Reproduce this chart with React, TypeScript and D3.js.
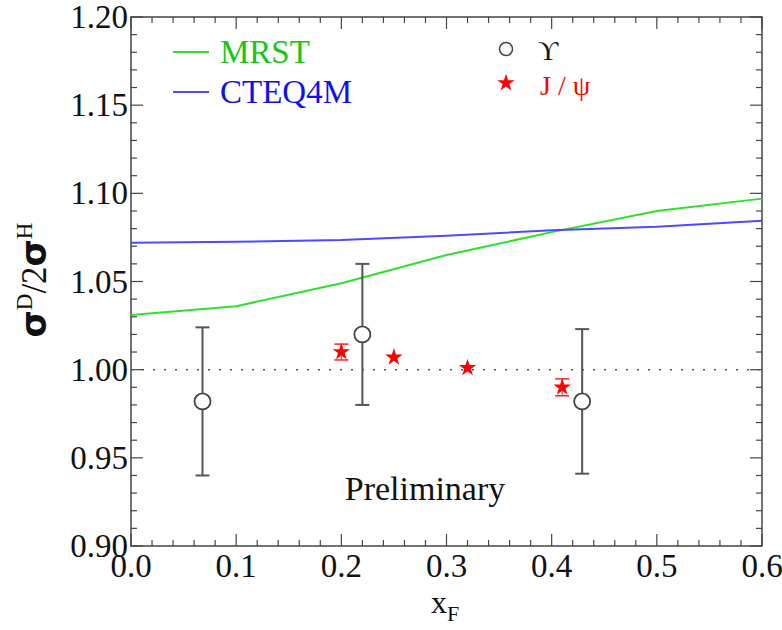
import React, { useEffect, useRef } from 'react';
import * as d3 from 'd3';

// Theory curves (xF, ratio)
const mrstX = [0.0, 0.1, 0.2, 0.3, 0.4, 0.5, 0.6];
const mrstY = [1.031, 1.036, 1.049, 1.065, 1.078, 1.090, 1.097];
const cteqX = [0.0, 0.1, 0.2, 0.3, 0.4, 0.5, 0.6];
const cteqY = [1.072, 1.0725, 1.0735, 1.076, 1.079, 1.081, 1.0845];

// Upsilon points
const upsX = [0.068, 0.22, 0.429];
const upsY = [0.982, 1.020, 0.982];
const upsErr = [0.042, 0.040, 0.041];

// J/psi points
const jpsiX = [0.20, 0.25, 0.32, 0.41];
const jpsiY = [1.010, 1.007, 1.001, 0.990];
const jpsiErr = [0.0045, 0.002, 0.0015, 0.0048];

const xTicks = [0.0, 0.1, 0.2, 0.3, 0.4, 0.5, 0.6];
const yTicks = [0.90, 0.95, 1.00, 1.05, 1.10, 1.15, 1.20];

const SERIF = '"Liberation Serif", "Times New Roman", serif';

const App = () => {
  const svgRef = useRef<SVGSVGElement>(null);

  useEffect(() => {
    const svg = d3.select(svgRef.current);
    svg.selectAll('*').remove();

    const left = 131, right = 762, top = 17, bottom = 546;
    const x = d3.scaleLinear().domain([0, 0.6]).range([left, right]);
    const y = d3.scaleLinear().domain([0.9, 1.2]).range([bottom, top]);

    const axisColor = '#444';

    // frame
    svg.append('rect')
      .attr('x', left).attr('y', top)
      .attr('width', right - left).attr('height', bottom - top)
      .attr('fill', 'none').attr('stroke', axisColor).attr('stroke-width', 1.5);

    // ticks, pointing inward on all four sides
    const g = svg.append('g').attr('stroke', axisColor).attr('stroke-width', 1.2);
    const xMinor = d3.range(0, 31).map(i => i * 0.02);
    xMinor.forEach((v, i) => {
      const len = i % 5 === 0 ? 12 : 6;
      g.append('line').attr('x1', x(v)).attr('x2', x(v)).attr('y1', bottom).attr('y2', bottom - len);
      g.append('line').attr('x1', x(v)).attr('x2', x(v)).attr('y1', top).attr('y2', top + len);
    });
    const yMinor = d3.range(0, 31).map(i => 0.9 + i * 0.01);
    yMinor.forEach((v, i) => {
      const len = i % 5 === 0 ? 12 : 6;
      g.append('line').attr('y1', y(v)).attr('y2', y(v)).attr('x1', left).attr('x2', left + len);
      g.append('line').attr('y1', y(v)).attr('y2', y(v)).attr('x1', right).attr('x2', right - len);
    });

    // tick labels
    svg.append('g').selectAll('text').data(xTicks).enter().append('text')
      .attr('x', d => x(d)).attr('y', 577)
      .attr('text-anchor', 'middle')
      .attr('font-family', SERIF).attr('font-size', 33).attr('fill', '#111')
      .text(d => d.toFixed(1));
    svg.append('g').selectAll('text').data(yTicks).enter().append('text')
      .attr('x', left - 3).attr('y', d => y(d) + 11)
      .attr('text-anchor', 'end')
      .attr('font-family', SERIF).attr('font-size', 33).attr('fill', '#111')
      .text(d => d.toFixed(2));

    // axis titles
    const xt = svg.append('text')
      .attr('x', 445).attr('y', 613)
      .attr('text-anchor', 'middle')
      .attr('font-family', SERIF).attr('font-size', 32).attr('fill', '#111');
    xt.append('tspan').text('x');
    xt.append('tspan').attr('font-size', 22).attr('dy', 8).text('F');

    const yt = svg.append('text')
      .attr('transform', 'translate(46,280) rotate(-90)')
      .attr('text-anchor', 'middle')
      .attr('font-family', SERIF).attr('font-size', 35).attr('fill', '#111');
    yt.append('tspan').attr('font-family', '"DejaVu Sans", sans-serif').attr('font-weight', 'bold').text('σ');
    yt.append('tspan').attr('font-size', 23).attr('dy', -14).text('D');
    yt.append('tspan').attr('dy', 14).text('/2');
    yt.append('tspan').attr('font-family', '"DejaVu Sans", sans-serif').attr('font-weight', 'bold').text('σ');
    yt.append('tspan').attr('font-size', 23).attr('dy', -14).text('H');

    // reference line at 1
    svg.append('line')
      .attr('x1', x(0)).attr('x2', x(0.6)).attr('y1', y(1)).attr('y2', y(1))
      .attr('stroke', '#555').attr('stroke-width', 1.5).attr('stroke-dasharray', '2,9');

    // theory curves
    const line = d3.line<[number, number]>().x(d => x(d[0])).y(d => y(d[1]));
    svg.append('path')
      .attr('d', line(mrstX.map((v, i) => [v, mrstY[i]])))
      .attr('fill', 'none').attr('stroke', '#2ee02e').attr('stroke-width', 2);
    svg.append('path')
      .attr('d', line(cteqX.map((v, i) => [v, cteqY[i]])))
      .attr('fill', 'none').attr('stroke', '#4a4aff').attr('stroke-width', 2);

    // Upsilon error bars + open circles
    const ups = svg.append('g');
    upsX.forEach((v, i) => {
      const cx = x(v);
      const y1 = y(upsY[i] + upsErr[i]);
      const y2 = y(upsY[i] - upsErr[i]);
      ups.append('line').attr('x1', cx).attr('x2', cx).attr('y1', y1).attr('y2', y2)
        .attr('stroke', '#555').attr('stroke-width', 2);
      [y1, y2].forEach(yy => ups.append('line')
        .attr('x1', cx - 7).attr('x2', cx + 7).attr('y1', yy).attr('y2', yy)
        .attr('stroke', '#555').attr('stroke-width', 2));
      ups.append('circle').attr('cx', cx).attr('cy', y(upsY[i])).attr('r', 8)
        .attr('fill', '#fff').attr('stroke', '#444').attr('stroke-width', 1.8);
    });

    // J/psi stars with small error bars
    const star = d3.symbol().type(d3.symbolStar).size(95);
    const jp = svg.append('g');
    jpsiX.forEach((v, i) => {
      const cx = x(v);
      const y1 = y(jpsiY[i] + jpsiErr[i]);
      const y2 = y(jpsiY[i] - jpsiErr[i]);
      if (jpsiErr[i] > 0.003) {
        jp.append('line').attr('x1', cx).attr('x2', cx).attr('y1', y1).attr('y2', y2)
          .attr('stroke', '#f22').attr('stroke-width', 1);
        [y1, y2].forEach(yy => jp.append('line')
          .attr('x1', cx - 7).attr('x2', cx + 7).attr('y1', yy).attr('y2', yy)
          .attr('stroke', '#f22').attr('stroke-width', 1.5));
      }
      jp.append('path').attr('d', star()).attr('transform', `translate(${cx},${y(jpsiY[i])})`)
        .attr('fill', '#ff0000');
    });

    // legend
    const lg = svg.append('g').attr('font-family', SERIF).attr('font-size', 33);
    lg.append('line').attr('x1', 173).attr('x2', 209).attr('y1', 52).attr('y2', 52)
      .attr('stroke', '#2ee02e').attr('stroke-width', 2);
    lg.append('text').attr('x', 220).attr('y', 63).attr('fill', '#12c812').text('MRST');
    lg.append('line').attr('x1', 173).attr('x2', 209).attr('y1', 92).attr('y2', 92)
      .attr('stroke', '#4a4aff').attr('stroke-width', 2);
    lg.append('text').attr('x', 220).attr('y', 103).attr('fill', '#1010ee').text('CTEQ4M');

    lg.append('circle').attr('cx', 506).attr('cy', 49).attr('r', 6.5)
      .attr('fill', '#fff').attr('stroke', '#444').attr('stroke-width', 1.5);
    lg.append('text').attr('x', 538).attr('y', 60).attr('font-size', 28).attr('fill', '#111').text('ϒ');
    lg.append('path').attr('d', star()).attr('transform', 'translate(506,83)').attr('fill', '#ff0000');
    lg.append('text').attr('x', 540).attr('y', 95).attr('font-size', 28).attr('fill', '#f00')
      .text('J / ψ');

    svg.append('text').attr('x', 425).attr('y', 500)
      .attr('text-anchor', 'middle')
      .attr('font-family', SERIF).attr('font-size', 34).attr('fill', '#111')
      .text('Preliminary');
  }, []);

  return (
    <svg ref={svgRef} width={782} height={630}
      style={{ position: 'absolute', left: 0, top: 0, background: '#fff' }} />
  );
};

export default App;
